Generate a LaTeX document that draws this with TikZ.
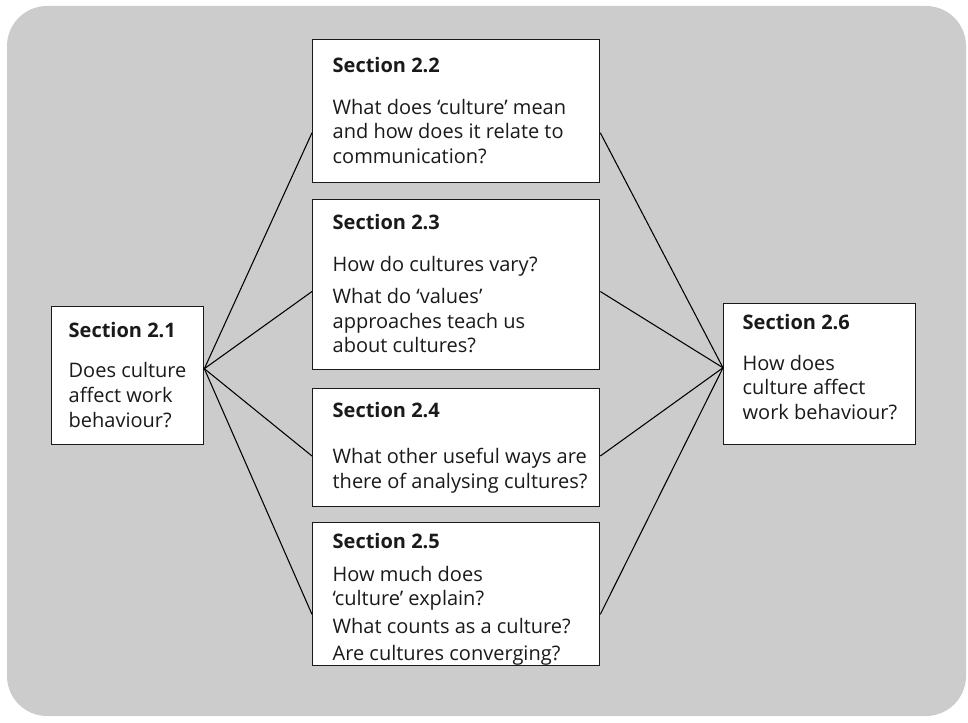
\documentclass[tikz,border=0pt]{standalone}
\usepackage{fontspec}
\setmainfont{Open Sans}
\usetikzlibrary{calc}
\definecolor{panelgrey}{HTML}{CCCCCC}
\definecolor{ink}{HTML}{1A1A1A}

% W x H box (in px units), left padding P, top-aligned content with explicit line breaks
\newcommand\panelbox[4]{\hspace*{\dimexpr #3pt*3/4\relax}%
  \parbox[t][\dimexpr #2pt*3/4\relax][t]{\dimexpr(#1pt-#3pt)*3/4\relax}{%
  \fontsize{15pt}{18.5pt}\selectfont\raggedright #4}}
% heading: #1 = depth of its baseline below the box top, #2 = extra space below it
\newcommand\sechead[3]{\rule{0pt}{#1}\textbf{#3}\par\vspace{#2}}
\newcommand\gap[1][3.5pt]{\par\vspace{#1}}

\tikzset{
  secbox/.style={draw=ink, line width=1pt, fill=white, anchor=north west,
    inner xsep=0pt, inner ysep=0pt, text=ink},
  link/.style={draw=black, line width=0.8pt}
}

\begin{document}
\begin{tikzpicture}[x=0.75pt, y=-0.75pt]
\useasboundingbox (0,0) rectangle (968,723);
\fill[panelgrey, rounded corners=30pt] (7,6) rectangle (966,716);

\node[secbox] (s21) at (51,306)
  {\panelbox{152}{138}{17}{\sechead{23.5pt}{11.5pt}{Section 2.1}Does culture\\affect work\\behaviour?}};
\node[secbox] (s22) at (312,39)
  {\panelbox{287}{143}{20}{\sechead{24.5pt}{13pt}{Section 2.2}What does ‘culture’ mean\\and how does it relate to\\communication?}};
\node[secbox] (s23) at (312,199)
  {\panelbox{287}{170}{20}{\sechead{22.5pt}{13pt}{Section 2.3}How do cultures vary?\gap[5.5pt]What do ‘values’\\approaches teach us\\about cultures?}};
\node[secbox] (s24) at (312,388)
  {\panelbox{287}{118}{20}{\sechead{21.5pt}{16.5pt}{Section 2.4}What other useful ways are\\there of analysing cultures?}};
\node[secbox] (s25) at (312,522)
  {\panelbox{287}{143}{20}{\sechead{19.5pt}{6pt}{Section 2.5}How much does\\‘culture’ explain?\gap[2pt]What counts as a culture?\gap[2pt]Are cultures converging?}};
\node[secbox] (s26) at (723,303)
  {\panelbox{192}{141}{19}{\sechead{19.5pt}{12pt}{Section 2.6}How does\\culture affect\\work behaviour?}};

% attachment points on the box sides
\coordinate (o21) at ($(s21.north east)!0.45!(s21.south east)$);
\coordinate (i26) at ($(s26.north west)!0.455!(s26.south west)$);
\coordinate (l22) at ($(s22.north west)!0.65!(s22.south west)$);
\coordinate (r22) at ($(s22.north east)!0.65!(s22.south east)$);
\coordinate (l23) at ($(s23.north west)!0.54!(s23.south west)$);
\coordinate (r23) at ($(s23.north east)!0.54!(s23.south east)$);
\coordinate (l24) at ($(s24.north west)!0.57!(s24.south west)$);
\coordinate (r24) at ($(s24.north east)!0.57!(s24.south east)$);
\coordinate (l25) at ($(s25.north west)!0.64!(s25.south west)$);
\coordinate (r25) at ($(s25.north east)!0.64!(s25.south east)$);

\foreach \k in {22,23,24,25}{
  \draw[link] (o21) -- (l\k);
  \draw[link] (r\k) -- (i26);
}
\end{tikzpicture}
\end{document}
